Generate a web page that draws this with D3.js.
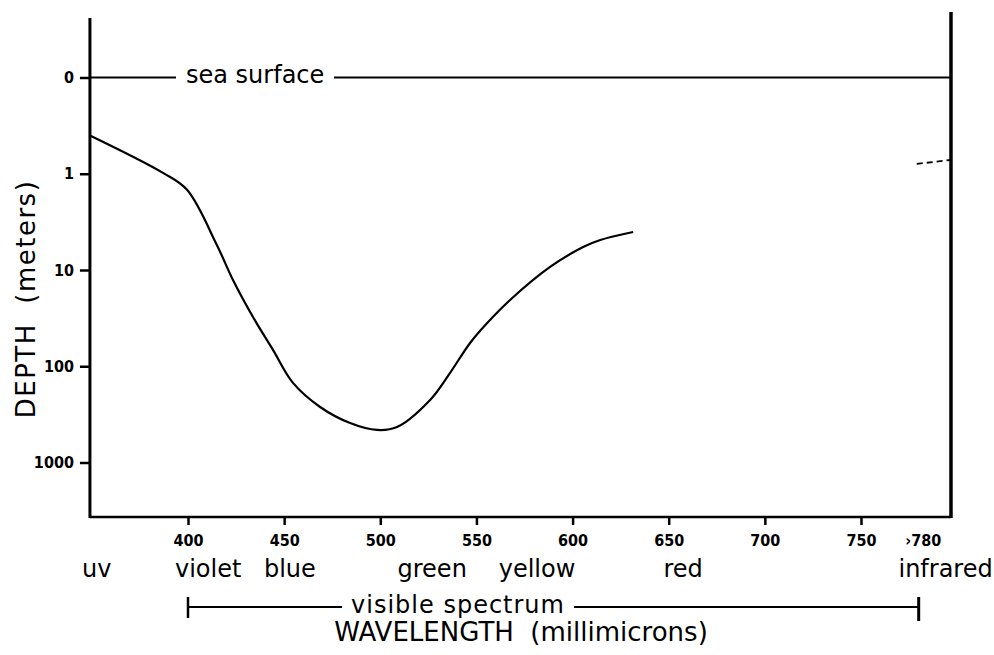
<!DOCTYPE html>
<html>
<head>
<meta charset="utf-8">
<script src="https://cdn.jsdelivr.net/npm/d3@7"></script>
<style>
  body { margin: 0; background: #fff; }
  text { font-family: "DejaVu Sans", sans-serif; fill: #000; }
  .tick text { font-family: "DejaVu Sans Condensed", "DejaVu Sans", sans-serif; font-weight: bold; font-size: 16px; }
  .label { font-size: 24px; }
  .title { font-size: 26px; }
</style>
</head>
<body>
<div id="chart"></div>
<script>
// Penetration depth of light in sea water by wavelength
// visible part of the curve (the scan loses it between ~630 and ~780)
const curveWavelength = [349, 387, 399.5, 415, 423.4, 433.8, 444.2, 454.6, 468.7, 484.3, 498.3, 508.7, 525.9, 536.3, 546.7, 555.6, 567.5, 588.3, 605.5, 614.4, 631.5];
const curveDepth      = [0.4, 0.98, 1.47, 5.5, 12.7, 30.8, 67.7, 149, 265, 389, 459, 428, 224, 117, 57.3, 35.6, 20.5, 9.3, 5.77, 4.88, 4.03];
// short fragment near the infrared edge
const tailWavelength = [779, 796.5];
const tailDepth      = [0.79, 0.72];

// axis ticks
const xTickValues = [400, 450, 500, 550, 600, 650, 700, 750, 780];
const xTickLabels = ["400", "450", "500", "550", "600", "650", "700", "750", "\u203A780"];
const yTickValues = [0.1, 1, 10, 100, 1000];
const yTickLabels = ["0", "1", "10", "100", "1000"];

// colour names under the axis
const colourNames = ["uv", "violet", "blue", "green", "yellow", "red", "infrared"];
const colourWavelength = [352.5, 410.5, 453, 527, 581.5, 657.5, 794];

const width = 994, height = 655;

const svg = d3.select("#chart")
    .append("svg")
    .attr("width", width)
    .attr("height", height);

// scales (x: millimicrons, y: depth in metres, log)
const x = d3.scaleLinear().domain([400, 750]).range([188, 861]);
const y = d3.scaleLog().domain([0.1, 1000]).range([77.5, 462.5]);

const left = x(349), right = x(796.8);
const bottom = 517;

// x axis ticks and labels
const xAxis = d3.axisBottom(x)
    .tickValues(xTickValues)
    .tickFormat((d, i) => xTickLabels[i])
    .tickSize(8)
    .tickPadding(10);

const gx = svg.append("g")
    .attr("transform", "translate(0," + bottom + ")")
    .call(xAxis);
gx.select(".domain").remove();
gx.selectAll(".tick line").attr("stroke", "#000").attr("stroke-width", 2.5);
gx.selectAll(".tick").filter(d => d === 780).select("line").remove();
gx.selectAll(".tick").filter(d => d === 780).select("text").attr("dx", 4);

// y axis ticks and labels
const yAxis = d3.axisLeft(y)
    .tickValues(yTickValues)
    .tickFormat((d, i) => yTickLabels[i])
    .tickSize(10)
    .tickPadding(6);

const gy = svg.append("g")
    .attr("transform", "translate(" + left + ",0)")
    .call(yAxis);
gy.select(".domain").remove();
gy.selectAll(".tick line").attr("stroke", "#000").attr("stroke-width", 2.5);

// frame: left axis, bottom axis, right edge
svg.append("line")
    .attr("x1", left).attr("x2", left)
    .attr("y1", 18).attr("y2", bottom + 1)
    .attr("stroke", "#000").attr("stroke-width", 3);
svg.append("line")
    .attr("x1", left).attr("x2", right)
    .attr("y1", bottom).attr("y2", bottom)
    .attr("stroke", "#000").attr("stroke-width", 2.5);
svg.append("line")
    .attr("x1", right).attr("x2", right)
    .attr("y1", 12).attr("y2", bottom + 1)
    .attr("stroke", "#000").attr("stroke-width", 3.5);

// sea surface line
const seaY = y(0.1);
svg.append("line")
    .attr("x1", left).attr("x2", 176)
    .attr("y1", seaY).attr("y2", seaY)
    .attr("stroke", "#000").attr("stroke-width", 2);
svg.append("text")
    .attr("class", "label")
    .attr("x", 186)
    .attr("y", seaY + 5)
    .text("sea surface");
svg.append("line")
    .attr("x1", 334).attr("x2", right)
    .attr("y1", seaY).attr("y2", seaY)
    .attr("stroke", "#000").attr("stroke-width", 2);

// the curve
const line = d3.line()
    .x(d => x(d[0]))
    .y(d => y(d[1]))
    .curve(d3.curveCatmullRom.alpha(0.5));

svg.append("path")
    .datum(d3.zip(curveWavelength, curveDepth))
    .attr("fill", "none")
    .attr("stroke", "#000")
    .attr("stroke-width", 2.2)
    .attr("d", line);

svg.append("path")
    .datum(d3.zip(tailWavelength, tailDepth))
    .attr("fill", "none")
    .attr("stroke", "#000")
    .attr("stroke-width", 1.8)
    .attr("stroke-dasharray", "6,4")
    .attr("d", line);

// colour names
svg.selectAll(".colour")
    .data(d3.zip(colourNames, colourWavelength))
    .enter().append("text")
    .attr("class", "label colour")
    .attr("x", d => x(d[1]))
    .attr("y", 577)
    .attr("text-anchor", "middle")
    .text(d => d[0]);

// visible spectrum bracket
const specY = 607;
svg.append("line")
    .attr("x1", x(400)).attr("x2", 342)
    .attr("y1", specY).attr("y2", specY)
    .attr("stroke", "#000").attr("stroke-width", 2);
svg.append("line")
    .attr("x1", 574).attr("x2", x(780))
    .attr("y1", specY).attr("y2", specY)
    .attr("stroke", "#000").attr("stroke-width", 2);
svg.append("line")
    .attr("x1", x(400)).attr("x2", x(400))
    .attr("y1", specY - 10).attr("y2", specY + 11)
    .attr("stroke", "#000").attr("stroke-width", 2.5);
svg.append("line")
    .attr("x1", x(780)).attr("x2", x(780))
    .attr("y1", specY - 10).attr("y2", specY + 14)
    .attr("stroke", "#000").attr("stroke-width", 3);
svg.append("text")
    .attr("class", "label")
    .attr("x", (342 + 574) / 2)
    .attr("y", 613)
    .attr("text-anchor", "middle")
    .style("letter-spacing", "1px")
    .text("visible spectrum");

// axis titles
svg.append("text")
    .attr("class", "title")
    .attr("x", 521)
    .attr("y", 641)
    .attr("text-anchor", "middle")
    .attr("xml:space", "preserve")
    .text("WAVELENGTH  (millimicrons)");

svg.append("text")
    .attr("class", "title")
    .attr("transform", "translate(35,299) rotate(-90)")
    .attr("text-anchor", "middle")
    .attr("xml:space", "preserve")
    .style("letter-spacing", "1.5px")
    .text("DEPTH  (meters)");
</script>
</body>
</html>
